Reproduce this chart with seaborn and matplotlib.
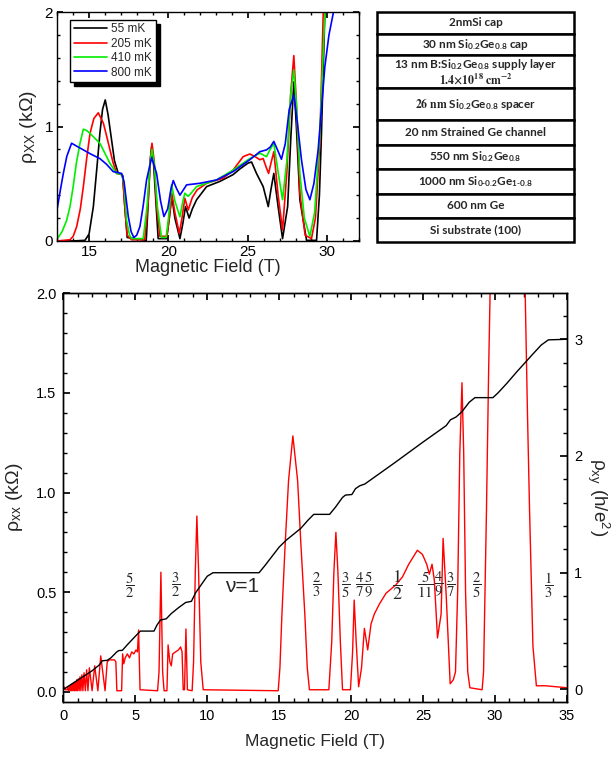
import matplotlib
matplotlib.use("Agg")
import matplotlib.pyplot as plt
import seaborn as sns
from matplotlib.ticker import MultipleLocator
from matplotlib.patches import Rectangle

# ---- inset: rho_xx (kOhm) vs B (T) at four temperatures, (B, rho) pairs ----
pts_55 = [(13.0, 0.0), (14.0, 0.0), (14.74, 0.005), (15.0, 0.06), (15.27, 0.30), (15.5, 0.65), (15.68, 0.94),
          (15.85, 1.15), (16.02, 1.233), (16.2, 1.1), (16.42, 0.88), (16.6, 0.7), (16.84, 0.59), (17.05, 0.58),
          (17.12, 0.57), (17.25, 0.3), (17.4, 0.03), (18.6, 0.005), (18.73, 0.36), (18.85, 0.7), (18.94, 0.825),
          (19.05, 0.7), (19.2, 0.36), (19.35, 0.02), (19.88, 0.02), (20.05, 0.2), (20.21, 0.39), (20.4, 0.2),
          (20.72, 0.02), (20.9, 0.15), (21.07, 0.30), (21.3, 0.2), (21.5, 0.28), (21.77, 0.36), (22.4, 0.475),
          (23.23, 0.52), (24.07, 0.58), (24.5, 0.63), (25.0, 0.68), (25.23, 0.69), (25.54, 0.59), (25.96, 0.475),
          (26.28, 0.30), (26.45, 0.45), (26.63, 0.59), (26.9, 0.3), (27.18, 0.02), (27.5, 0.3), (27.7, 0.9),
          (27.89, 1.39), (28.05, 1.0), (28.27, 0.36), (28.69, 0.005), (29.32, 0.005), (29.5, 0.4), (29.63, 0.94),
          (29.84, 1.99), (30.1, 2.6)]
pts_205 = [(13.0, 0.0), (13.8, 0.01), (14.0, 0.04), (14.22, 0.125), (14.45, 0.28), (14.64, 0.475), (14.85, 0.72),
           (15.06, 0.94), (15.3, 1.07), (15.58, 1.12), (15.9, 1.03), (16.1, 0.92), (16.31, 0.8), (16.5, 0.69),
           (16.73, 0.59), (17.0, 0.585), (17.12, 0.56), (17.25, 0.3), (17.4, 0.05), (17.68, 0.01), (18.5, 0.01),
           (18.7, 0.3), (18.85, 0.7), (18.96, 0.854), (19.1, 0.7), (19.25, 0.3), (19.46, 0.04), (19.9, 0.04),
           (20.05, 0.2), (20.21, 0.417), (20.4, 0.25), (20.68, 0.067), (20.85, 0.2), (21.03, 0.373), (21.24, 0.27),
           (21.5, 0.38), (21.8, 0.446), (22.4, 0.504), (23.44, 0.548), (24.07, 0.62), (24.7, 0.737), (25.12, 0.76),
           (25.45, 0.737), (25.75, 0.71), (25.96, 0.72), (26.17, 0.636), (26.3, 0.59), (26.45, 0.68), (26.63, 0.78),
           (26.9, 0.4), (27.18, 0.096), (27.45, 0.6), (27.7, 1.3), (27.89, 1.62), (28.05, 1.2), (28.27, 0.417),
           (28.6, 0.05), (29.0, 0.02), (29.25, 0.2), (29.53, 0.88), (29.74, 1.99), (30.0, 2.6)]
pts_410 = [(13.0, 0.02), (13.3, 0.08), (13.59, 0.18), (13.8, 0.3), (14.0, 0.475), (14.2, 0.68), (14.43, 0.854),
           (14.64, 0.977), (14.85, 0.965), (15.06, 0.94), (15.68, 0.854), (16.31, 0.68), (16.73, 0.59),
           (17.05, 0.585), (17.2, 0.5), (17.36, 0.18), (17.55, 0.05), (17.68, 0.02), (18.41, 0.02), (18.65, 0.3),
           (18.82, 0.65), (18.96, 0.80), (19.1, 0.68), (19.3, 0.3), (19.56, 0.03), (19.85, 0.03), (20.0, 0.2),
           (20.19, 0.49), (20.4, 0.35), (20.72, 0.21), (20.88, 0.33), (21.03, 0.417), (21.24, 0.39), (21.5, 0.43),
           (21.77, 0.475), (23.02, 0.533), (24.07, 0.62), (25.12, 0.72), (25.75, 0.767), (26.17, 0.737),
           (26.4, 0.8), (26.63, 0.854), (26.9, 0.6), (27.18, 0.36), (27.45, 0.7), (27.7, 1.3), (27.89, 1.495),
           (28.05, 1.2), (28.27, 0.59), (28.55, 0.2), (28.9, 0.04), (29.2, 0.25), (29.53, 0.94), (29.84, 1.99),
           (30.1, 2.6)]
pts_800 = [(13.0, 0.286), (13.2, 0.45), (13.38, 0.59), (13.6, 0.74), (13.9, 0.854), (14.2, 0.83), (14.64, 0.796),
           (15.1, 0.76), (15.68, 0.72), (16.1, 0.67), (16.52, 0.606), (17.05, 0.59), (17.2, 0.52), (17.47, 0.213),
           (17.65, 0.08), (17.82, 0.03), (18.0, 0.05), (18.2, 0.125), (18.4, 0.3), (18.62, 0.533), (18.94, 0.73),
           (19.25, 0.59), (19.5, 0.35), (19.71, 0.213), (19.95, 0.28), (20.15, 0.45), (20.3, 0.528), (20.5, 0.46),
           (20.72, 0.40), (21.14, 0.49), (21.98, 0.504), (23.02, 0.533), (24.07, 0.606), (25.12, 0.71),
           (25.75, 0.78), (26.17, 0.796), (26.4, 0.82), (26.63, 0.87), (26.85, 0.8), (27.11, 0.714), (27.35, 0.85),
           (27.6, 1.15), (27.89, 1.277), (28.1, 1.05), (28.37, 0.71), (28.65, 0.45), (28.9, 0.36), (29.15, 0.5),
           (29.42, 0.796), (29.84, 1.52), (30.1, 1.8), (30.37, 1.99), (30.6, 2.3)]

temps = ["55 mK", "205 mK", "410 mK", "800 mK"]
temp_colors = ["black", "#ff0000", "#00ee00", "#0000ff"]

# ---- main panel: rho_xx (kOhm, left) and rho_xy (h/e^2, right) vs B ----
pts_xx = [(0.0, 0.03), (0.15, 0.01), (0.25, 0.01), (0.3, 0.02), (0.36, 0.005), (0.42, 0.03), (0.48, 0.005),
          (0.53, 0.035), (0.58, 0.005), (0.63, 0.04), (0.68, 0.005), (0.73, 0.045), (0.78, 0.005), (0.83, 0.05),
          (0.88, 0.005), (0.93, 0.06), (0.98, 0.005), (1.04, 0.065), (1.1, 0.005), (1.16, 0.075), (1.22, 0.005),
          (1.29, 0.085), (1.36, 0.005), (1.44, 0.095), (1.53, 0.005), (1.62, 0.11), (1.71, 0.005), (1.81, 0.12),
          (2.0, 0.005), (2.18, 0.13), (2.4, 0.005), (2.6, 0.18), (2.9, 0.005), (3.05, 0.15), (3.2, 0.16),
          (3.55, 0.16), (3.65, 0.15), (3.72, 0.005), (4.05, 0.005), (4.12, 0.19), (4.2, 0.14), (4.3, 0.17),
          (4.45, 0.19), (4.6, 0.17), (4.75, 0.2), (4.9, 0.19), (5.05, 0.21), (5.15, 0.2), (5.23, 0.31),
          (5.33, 0.01), (6.55, 0.005), (6.65, 0.1), (6.78, 0.6), (6.9, 0.1), (7.0, 0.005), (7.2, 0.005),
          (7.28, 0.235), (7.4, 0.15), (7.5, 0.13), (7.6, 0.19), (7.8, 0.2), (8.0, 0.21), (8.15, 0.225),
          (8.25, 0.2), (8.33, 0.01), (8.42, 0.01), (8.52, 0.315), (8.62, 0.01), (8.95, 0.005), (9.05, 0.15),
          (9.17, 0.6), (9.28, 0.882), (9.4, 0.6), (9.55, 0.15), (9.72, 0.01), (14.93, 0.005), (15.05, 0.12),
          (15.19, 0.39), (15.4, 0.72), (15.65, 1.06), (15.95, 1.284), (16.28, 1.06), (16.5, 0.75), (16.78, 0.39),
          (16.95, 0.12), (17.1, 0.01), (18.45, 0.01), (18.65, 0.25), (18.8, 0.6), (18.94, 0.8), (19.08, 0.6),
          (19.25, 0.25), (19.4, 0.01), (19.95, 0.01), (20.1, 0.2), (20.21, 0.46), (20.35, 0.25), (20.52, 0.025),
          (20.72, 0.12), (20.92, 0.318), (21.15, 0.21), (21.38, 0.34), (21.61, 0.39), (21.96, 0.44),
          (22.42, 0.494), (23.1, 0.536), (23.57, 0.577), (24.0, 0.64), (24.6, 0.71), (24.95, 0.69),
          (25.25, 0.64), (25.43, 0.59), (25.62, 0.64), (25.78, 0.56), (26.0, 0.27), (26.25, 0.39), (26.39, 0.77),
          (26.6, 0.49), (26.88, 0.04), (27.1, 0.06), (27.25, 0.1), (27.4, 0.5), (27.55, 1.2), (27.7, 1.551),
          (27.82, 1.2), (27.95, 0.5), (28.1, 0.1), (28.25, 0.02), (29.1, 0.01), (29.2, 0.1), (29.4, 0.9),
          (29.55, 1.6), (29.68, 2.1), (30.0, 3.0), (31.8, 3.0), (32.08, 2.05), (32.25, 1.4), (32.4, 0.9),
          (32.63, 0.23), (32.87, 0.03), (33.5, 0.03), (35.0, 0.02)]
pts_xy = [(0.0, 0.0), (0.5, 0.04), (1.0, 0.08), (1.5, 0.12), (2.0, 0.16), (2.5, 0.21), (2.7, 0.245), (3.05, 0.25),
          (3.3, 0.27), (3.7, 0.32), (3.85, 0.333), (4.1, 0.335), (4.5, 0.39), (5.0, 0.455), (5.35, 0.5),
          (6.3, 0.5), (6.5, 0.55), (6.75, 0.595), (7.15, 0.605), (7.5, 0.65), (8.0, 0.7), (8.5, 0.745),
          (8.9, 0.755), (9.2, 0.83), (9.6, 0.9), (10.0, 0.97), (10.4, 1.0), (13.6, 1.0), (14.0, 1.06),
          (14.5, 1.14), (15.0, 1.22), (15.5, 1.28), (16.0, 1.33), (16.5, 1.38), (17.0, 1.45), (17.4, 1.5),
          (18.5, 1.5), (18.9, 1.56), (19.4, 1.645), (19.6, 1.665), (20.05, 1.67), (20.3, 1.72), (20.6, 1.745),
          (20.95, 1.76), (23.0, 1.94), (25.0, 2.12), (26.6, 2.26), (26.9, 2.31), (27.3, 2.335), (27.7, 2.38),
          (28.2, 2.46), (28.6, 2.5), (29.85, 2.5), (30.2, 2.54), (30.8, 2.62), (31.5, 2.72), (32.6, 2.87),
          (33.2, 2.95), (33.7, 2.995), (35.0, 3.0)]

frac_labels = ["5/2", "3/2", "2/3", "3/5", "4/7", "5/9", "1/2", "5/11", "4/9", "3/7", "2/5", "1/3"]
frac_b = [4.58, 7.83, 17.6, 19.6, 20.56, 21.25, 23.19, 25.12, 26.08, 26.94, 28.7, 33.75]

layers = [
    "2nmSi cap",
    r"30 nm Si$_\mathregular{0.2}$Ge$_\mathregular{0.8}$ cap",
    r"13 nm B:Si$_\mathregular{0.2}$Ge$_\mathregular{0.8}$ supply layer",
    r"$\mathbf{26\ nm}$ Si$_\mathregular{0.2}$Ge$_\mathregular{0.8}$ spacer",
    "20 nm Strained Ge channel",
    r"550 nm Si$_\mathregular{0.2}$Ge$_\mathregular{0.8}$",
    "1000 nm Si$_\\mathregular{0\u20100.2}$Ge$_\\mathregular{1\u20100.8}$",
    "600 nm Ge",
    "Si substrate (100)",
]
doping = r"$\mathbf{1.4{\times}10^{18}\ cm^{-2}}$"
layer_h = [22, 21, 33, 32, 25, 24, 25, 24, 24]

sns.set_theme(style="ticks")
plt.rcParams["font.family"] = ["Liberation Sans", "DejaVu Sans"]
plt.rcParams["mathtext.fontset"] = "stix"
plt.rcParams["axes.edgecolor"] = "black"
plt.rcParams["axes.linewidth"] = 1.0
plt.rcParams["xtick.color"] = "black"
plt.rcParams["ytick.color"] = "black"
plt.rcParams["xtick.direction"] = "in"
plt.rcParams["ytick.direction"] = "in"

fig = plt.figure(figsize=(6.16, 7.6), dpi=100)

# inset
ax_in = fig.add_axes([0.093, 0.683, 0.490, 0.301])
for pts, lab, col in zip([pts_55, pts_205, pts_410, pts_800], temps, temp_colors):
    b, r = zip(*pts)
    sns.lineplot(x=list(b), y=list(r), ax=ax_in, color=col, linewidth=1.2, label=lab)
ax_in.set_xlim(13, 32)
ax_in.set_ylim(0, 2)
ax_in.xaxis.set_major_locator(MultipleLocator(5))
ax_in.xaxis.set_minor_locator(MultipleLocator(1))
ax_in.yaxis.set_major_locator(MultipleLocator(1))
ax_in.yaxis.set_minor_locator(MultipleLocator(0.2))
ax_in.tick_params(which="both", top=True, right=True, labelsize=11, pad=3)
ax_in.tick_params(which="major", length=4)
ax_in.tick_params(which="minor", length=2.5)
ax_in.set_xlabel("Magnetic Field (T)", fontsize=13, labelpad=0)
ax_in.set_ylabel(r"ρ$_\mathregular{XX}$ (kΩ)", fontsize=14, labelpad=4)
leg = ax_in.legend(loc="upper left", bbox_to_anchor=(0.042, 0.966), borderaxespad=0, fontsize=8.5,
                   frameon=True, fancybox=False, edgecolor="black", framealpha=1,
                   shadow={"color": "black", "alpha": 1, "ox": 3, "oy": -3},
                   handlelength=2.8, labelspacing=0.2, handletextpad=0.4, borderpad=0.3)
leg.get_frame().set_linewidth(1.0)

# layer stack
ax_t = fig.add_axes([0.6125, 0.6816, 0.3195, 0.303])
ax_t.set_axis_off()
total = sum(layer_h)
ax_t.set_xlim(0, 1)
ax_t.set_ylim(total, 0)
top = 0
for i, (lab, h) in enumerate(zip(layers, layer_h)):
    ax_t.add_patch(Rectangle((0, top), 1, h, facecolor="white", edgecolor="black", linewidth=1.8,
                             clip_on=False))
    if i == 2:
        ax_t.text(0.5, top + h * 0.3, lab, ha="center", va="center", fontsize=8.5,
                  fontweight="bold", family="Lato")
        ax_t.text(0.5, top + h * 0.74, doping, ha="center", va="center", fontsize=8.5)
    else:
        ax_t.text(0.5, top + h / 2, lab, ha="center", va="center", fontsize=8.5,
                  fontweight="bold", family="Lato")
    top += h

# main panel
ax = fig.add_axes([0.1028, 0.0767, 0.8177, 0.5374])
b, r = zip(*pts_xx)
sns.lineplot(x=list(b), y=list(r), ax=ax, color="#ff0000", linewidth=1.0)
ax.set_xlim(0, 35)
ax.set_ylim(-0.05, 2.0)
ax.xaxis.set_major_locator(MultipleLocator(5))
ax.xaxis.set_minor_locator(MultipleLocator(1))
ax.yaxis.set_major_locator(MultipleLocator(0.5))
ax.yaxis.set_minor_locator(MultipleLocator(0.1))
ax.tick_params(which="both", top=True, labelsize=10.5, pad=5)
ax.tick_params(which="major", length=5)
ax.tick_params(which="minor", length=3)
ax.set_xlabel("Magnetic Field (T)", fontsize=12.5, labelpad=8)
ax.set_ylabel(r"ρ$_\mathregular{xx}$ (kΩ)", fontsize=14, labelpad=8)

ax2 = ax.twinx()
b, r = zip(*pts_xy)
sns.lineplot(x=list(b), y=list(r), ax=ax2, color="black", linewidth=1.0)
ax2.set_ylim(-0.105, 3.394)
ax2.yaxis.set_major_locator(MultipleLocator(1))
ax2.yaxis.set_minor_locator(MultipleLocator(0.2))
ax2.tick_params(which="both", labelsize=10.5, pad=5)
ax2.tick_params(which="major", length=5)
ax2.tick_params(which="minor", length=3)
ax2.set_ylabel(r"ρ$_\mathregular{xy}$ (h/e$^\mathregular{2}$)", fontsize=13.5, rotation=-90, labelpad=21)

for lab, bb in zip(frac_labels, frac_b):
    n, d = lab.split("/")
    size = 13 if lab == "1/2" else 10.5
    ax.text(bb, 0.537, r"$\dfrac{%s}{%s}$" % (n, d), ha="center", va="center", fontsize=size)
ax.text(12.4, 0.527, "ν=1", ha="center", va="center", fontsize=15)

fig.savefig("out.png", dpi=100)
